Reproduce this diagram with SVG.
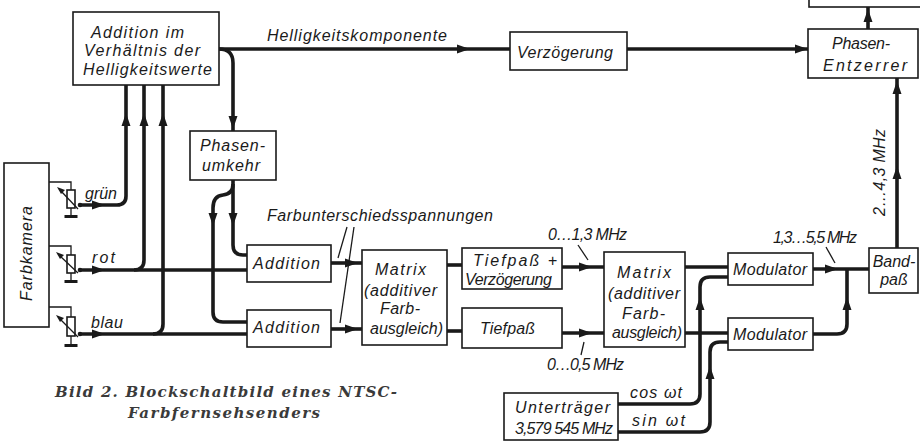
<svg xmlns="http://www.w3.org/2000/svg" xmlns:xlink="http://www.w3.org/1999/xlink" width="920" height="444" viewBox="0 0 920 444">
<style>
.box{fill:none;stroke:#1a1a1a;stroke-width:1.6}
.w{fill:none;stroke:#1a1a1a;stroke-width:3.6}
.thin{fill:none;stroke:#1a1a1a;stroke-width:1.3}
.t{font-family:"Liberation Sans","DejaVu Sans",sans-serif;font-style:italic;font-size:16px;fill:#1a1a1a}
.cap{font-family:"DejaVu Serif","Liberation Serif",serif;font-style:italic;font-weight:bold;font-size:15px;fill:#3a3a3a}
.ah{fill:#1a1a1a}
</style>
<defs>
<path id="ah" class="ah" d="M0,0 L-13,-4.5 L-13,4.5 Z"/>
</defs>
<rect width="920" height="444" fill="#fff"/>

<g id="top-box"><rect class="box" x="809" y="-10" width="120" height="17"/></g>

<g id="addition-helligkeit">
<rect class="box" x="73" y="12" width="146" height="73"/>
<text class="t" x="91" y="38" textLength="93">Addition im</text>
<text class="t" x="84" y="56" textLength="116">Verhältnis der</text>
<text class="t" x="83" y="75" textLength="129">Helligkeitswerte</text>
</g>

<g id="verzoegerung">
<rect class="box" x="510" y="32" width="117" height="38"/>
<text class="t" x="517" y="58" textLength="96">Verzögerung</text>
</g>

<g id="phasen-entzerrer">
<rect class="box" x="808" y="29" width="110" height="49"/>
<text class="t" x="832" y="49" textLength="58">Phasen-</text>
<text class="t" x="823" y="71" textLength="84">Entzerrer</text>
</g>

<g id="phasenumkehr">
<rect class="box" x="190" y="131" width="86" height="49"/>
<text class="t" x="200" y="151" textLength="65">Phasen-</text>
<text class="t" x="202" y="171" textLength="58">umkehr</text>
</g>

<g id="farbkamera">
<rect class="box" x="4" y="163" width="45" height="164"/>
<text class="t" transform="translate(26,253) rotate(-90)" x="-48" y="6" textLength="95">Farbkamera</text>
</g>

<g id="pot-gruen">
<path class="thin" d="M49,182 H71 V190"/>
<rect class="box" x="67" y="190" width="8" height="18" fill="#fff"/>
<path class="thin" d="M71,208 V216"/>
<rect x="64.5" y="215" width="13" height="3" fill="#1a1a1a"/>
<path class="thin" d="M78,209 L60,190"/>
<path class="ah" d="M57,187 L65,190 L61,194 Z"/>
<circle cx="80" cy="205" r="2.3" fill="#1a1a1a"/>
<text class="t" x="85" y="199" textLength="32">grün</text>
</g>

<g id="pot-rot">
<path class="thin" d="M49,246 H71 V255"/>
<rect class="box" x="67" y="255" width="8" height="18" fill="#fff"/>
<path class="thin" d="M71,273 V281"/>
<rect x="64.5" y="280" width="13" height="3" fill="#1a1a1a"/>
<path class="thin" d="M78,273 L59,255"/>
<path class="ah" d="M56,252 L64,255 L60,259 Z"/>
<circle cx="80" cy="270" r="2.3" fill="#1a1a1a"/>
<text class="t" x="92" y="263" textLength="23">rot</text>
</g>

<g id="pot-blau">
<path class="thin" d="M49,307 H71 V317"/>
<rect class="box" x="67" y="317" width="8" height="19" fill="#fff"/>
<path class="thin" d="M71,336 V345"/>
<rect x="64.5" y="344" width="13" height="3" fill="#1a1a1a"/>
<path class="thin" d="M78,337 L59,318"/>
<path class="ah" d="M56,315 L64,318 L60,322 Z"/>
<circle cx="80" cy="334" r="2.3" fill="#1a1a1a"/>
<text class="t" x="91" y="328" textLength="32">blau</text>
</g>

<g id="addition-1">
<rect class="box" x="247" y="245" width="84" height="37"/>
<text class="t" x="253" y="269" textLength="67">Addition</text>
</g>
<g id="addition-2">
<rect class="box" x="247" y="310" width="84" height="37"/>
<text class="t" x="253" y="333" textLength="67">Addition</text>
</g>

<g id="matrix-1">
<rect class="box" x="362" y="250" width="85" height="95"/>
<text class="t" x="375" y="275" textLength="51">Matrix</text>
<text class="t" x="364" y="296" textLength="73">(additiver</text>
<text class="t" x="380" y="314" textLength="40">Farb-</text>
<text class="t" x="370" y="334" textLength="73">ausgleich)</text>
</g>

<g id="tiefpass-verz">
<rect class="box" x="462" y="248" width="100" height="41"/>
<text class="t" x="473" y="266" textLength="84">Tiefpaß +</text>
<text class="t" x="465" y="285" textLength="87">Verzögerung</text>
</g>
<g id="tiefpass">
<rect class="box" x="462" y="308" width="100" height="40"/>
<text class="t" x="480" y="334" textLength="55">Tiefpaß</text>
</g>

<g id="matrix-2">
<rect class="box" x="604" y="252" width="81" height="95"/>
<text class="t" x="617" y="278" textLength="54">Matrix</text>
<text class="t" x="608" y="299" textLength="72">(additiver</text>
<text class="t" x="622" y="319" textLength="43">Farb-</text>
<text class="t" x="612" y="338" textLength="70">ausgleich)</text>
</g>

<g id="modulator-1">
<rect class="box" x="728" y="253" width="85" height="32"/>
<text class="t" x="733" y="275" textLength="74">Modulator</text>
</g>
<g id="modulator-2">
<rect class="box" x="728" y="318" width="85" height="32"/>
<text class="t" x="733" y="340" textLength="74">Modulator</text>
</g>

<g id="bandpass">
<rect class="box" x="869" y="248" width="49" height="45"/>
<text class="t" x="894" y="267" text-anchor="middle" font-size="15">Band-</text>
<text class="t" x="894" y="285" text-anchor="middle" font-size="15">paß</text>
</g>

<g id="untertraeger">
<rect class="box" x="504" y="393" width="114" height="47"/>
<text class="t" x="515" y="413" textLength="95">Unterträger</text>
<text class="t" x="515" y="434" textLength="98">3,579 545 MHz</text>
</g>

<g id="connectors">
<path class="w" d="M219,49 H510"/>
<path class="w" d="M627,49 H808"/>
<path class="w" d="M219,49 Q233,49 233,63 V131"/>
<path class="w" d="M233,180 V245 Q233,255 243,255 H247"/>
<path class="w" d="M233,184 Q233,194 223,195 Q213,196 213,208 V312 Q213,322 223,322 H247"/>
<path class="w" d="M79,205 H117 Q126,205 126,196 V85"/>
<path class="w" d="M79,270 H247"/>
<path class="w" d="M134,270 Q144,270 144,260 V85"/>
<path class="w" d="M79,334 H247"/>
<path class="w" d="M153,334 Q163,334 163,324 V85"/>
<path class="w" d="M331,263 H362"/>
<path class="w" d="M331,329 H362"/>
<path class="w" d="M447,265 H462"/>
<path class="w" d="M447,331 H462"/>
<path class="w" d="M562,267 H604"/>
<path class="w" d="M562,333 H604"/>
<path class="w" d="M685,267 H728"/>
<path class="w" d="M685,333 H728"/>
<path class="w" d="M618,404 H690 Q700,404 700,394 V287 Q700,277 710,277 H728"/>
<path class="w" d="M618,432 H700 Q710,432 710,422 V352 Q710,342 720,342 H728"/>
<path class="w" d="M813,269 H869"/>
<path class="w" d="M813,334 H837 Q847,334 847,324 V269"/>
<path class="w" d="M897,248 V78"/>
<path class="w" d="M868,29 V7"/>

<use xlink:href="#ah" transform="translate(470,49)"/>
<use xlink:href="#ah" transform="translate(808,49)"/>
<use xlink:href="#ah" transform="translate(233,129) rotate(90)"/>
<use xlink:href="#ah" transform="translate(233,226) rotate(90)"/>
<use xlink:href="#ah" transform="translate(213,226) rotate(90)"/>
<use xlink:href="#ah" transform="translate(105,205)"/>
<use xlink:href="#ah" transform="translate(105,270)"/>
<use xlink:href="#ah" transform="translate(105,334)"/>
<use xlink:href="#ah" transform="translate(126,113) rotate(-90)"/>
<use xlink:href="#ah" transform="translate(144,113) rotate(-90)"/>
<use xlink:href="#ah" transform="translate(163,113) rotate(-90)"/>
<use xlink:href="#ah" transform="translate(358,263)"/>
<use xlink:href="#ah" transform="translate(358,329)"/>
<use xlink:href="#ah" transform="translate(592,267)"/>
<use xlink:href="#ah" transform="translate(592,333)"/>
<use xlink:href="#ah" transform="translate(700,297) rotate(-90)"/>
<use xlink:href="#ah" transform="translate(710,366) rotate(-90)"/>
<use xlink:href="#ah" transform="translate(838,269)"/>
<use xlink:href="#ah" transform="translate(847,297) rotate(-90)"/>
<use xlink:href="#ah" transform="translate(897,81) rotate(-90)"/>
<use xlink:href="#ah" transform="translate(897,166) rotate(-90)"/>
<use xlink:href="#ah" transform="translate(868,9) rotate(-90)"/>

<path class="thin" d="M347,227 L338,258"/>
<path class="thin" d="M354,227 L340,323"/>
<path class="thin" d="M578,245 L588,260"/>
<path class="thin" d="M584,342 L581,355"/>
<path class="thin" d="M826,247 L835,263"/>
</g>

<g id="labels">
<text class="t" x="267" y="41" textLength="180">Helligkeitskomponente</text>
<text class="t" x="267" y="221" textLength="226">Farbunterschiedsspannungen</text>
<text class="t" x="548" y="240" textLength="79" font-size="15">0…1,3 MHz</text>
<text class="t" x="547" y="370" textLength="77" font-size="15">0…0,5 MHz</text>
<text class="t" x="773" y="243" textLength="84" font-size="15">1,3…5,5 MHz</text>
<text class="t" transform="translate(880,172) rotate(-90)" x="-44" y="5" textLength="87" font-size="15">2…4,3 MHz</text>
<text class="t" x="630" y="398" textLength="52">cos ωt</text>
<text class="t" x="632" y="426" textLength="53">sin ωt</text>
<text class="cap" x="55" y="397" textLength="342">Bild 2. Blockschaltbild eines NTSC-</text>
<text class="cap" x="128" y="418" textLength="192">Farbfernsehsenders</text>
</g>
</svg>
